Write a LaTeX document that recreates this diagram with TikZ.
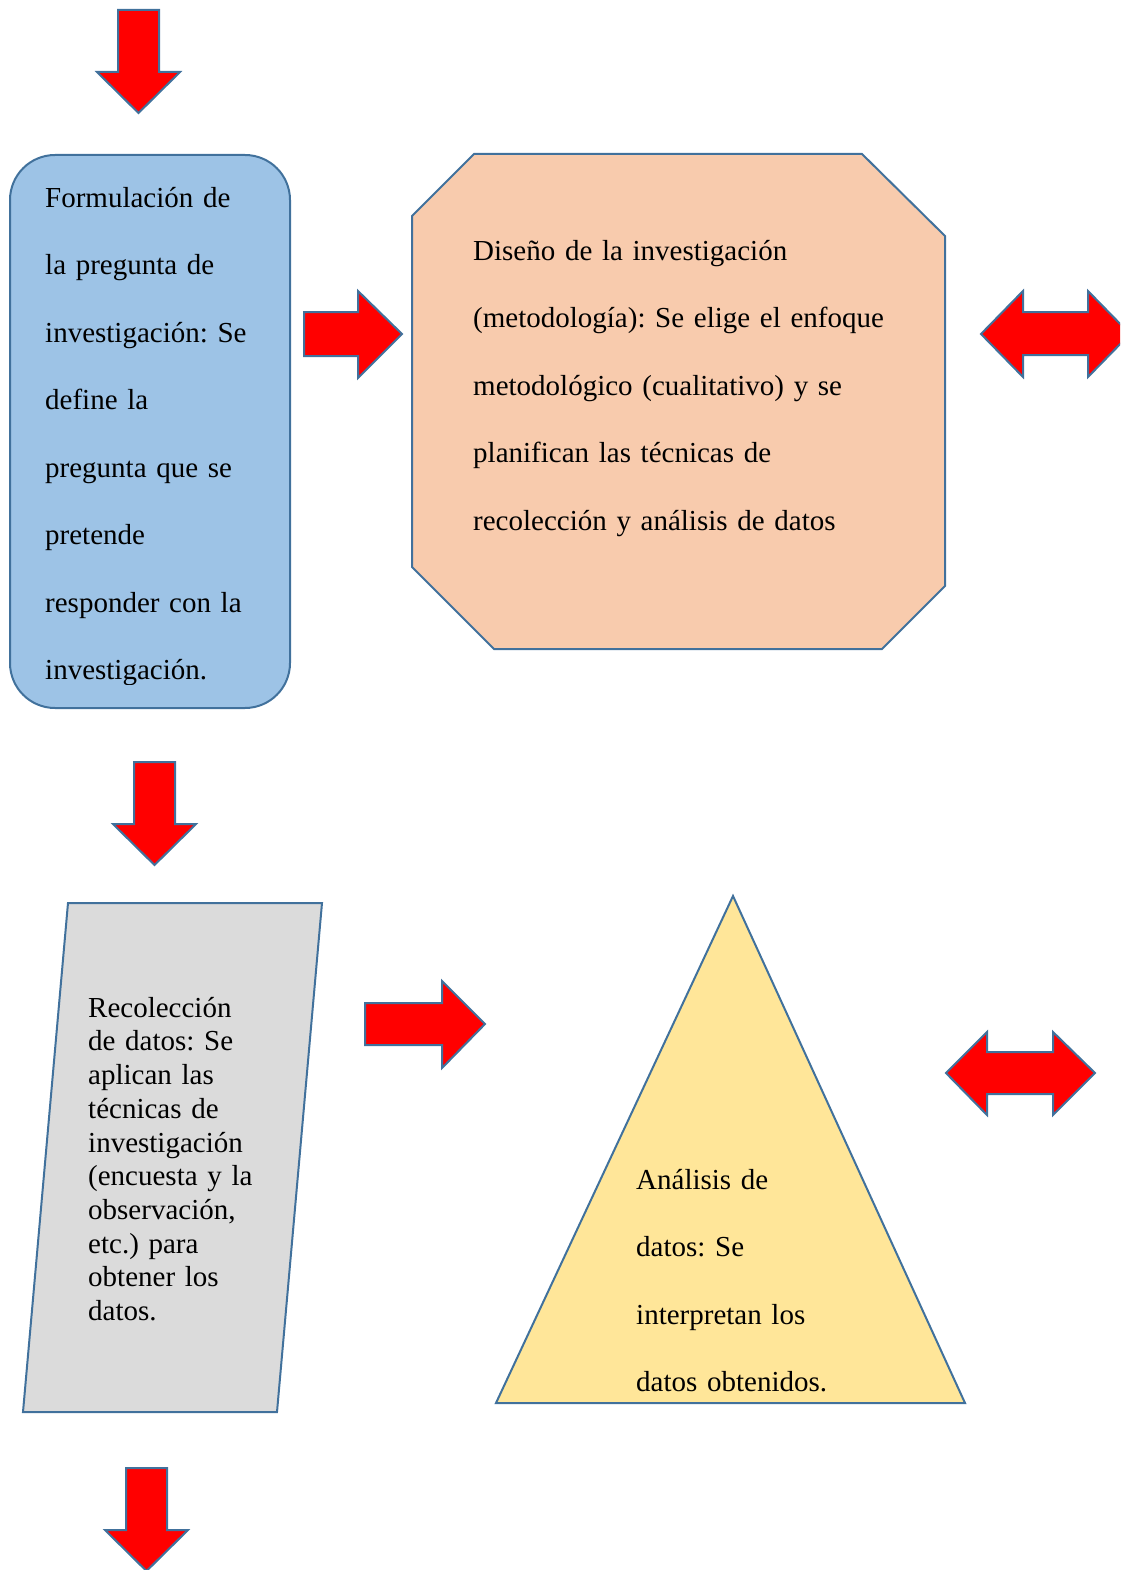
\documentclass[tikz,border=0pt]{standalone}
\usepackage{fontspec}
\setmainfont{Liberation Serif}
\usepackage{tikz}
\usetikzlibrary{positioning}
\frenchspacing

\definecolor{outline}{HTML}{41719C}
\definecolor{arrowred}{HTML}{FF0000}
\definecolor{blueback}{HTML}{9DC3E6}
\definecolor{peachback}{HTML}{F8CBAD}
\definecolor{greyback}{HTML}{DBDBDB}
\definecolor{yellowback}{HTML}{FFE699}

\tikzset{
  shapeline/.style={draw=outline, line width=2pt, line join=miter},
  blockarrow/.style={shapeline, fill=arrowred},
  widetext/.style={anchor=north west, inner sep=0pt, align=left,
    text width=#1, font=\fontsize{29}{67.5}\selectfont},
  tighttext/.style={anchor=north west, inner sep=0pt, align=left,
    text width=#1, font=\fontsize{29}{33.7}\selectfont},
}
\newcommand{\topstrut}{\rule{0pt}{27pt}}
% centre x, top y
\newcommand{\downblock}[2]{%
  \draw[blockarrow] (#1-20.5,#2) -- ++(41,0) -- ++(0,62) -- ++(21,0)
    -- ++(-41.5,41) -- ++(-41.5,-41) -- ++(21,0) -- cycle;}

\begin{document}
\begin{tikzpicture}[x=1pt, y=-1pt]
      \clip (0,0) rectangle (1120,1570);

      % shapes
      \draw[shapeline, fill=blueback, rounded corners=45pt] (10,155) rectangle (290,708);
      \draw[shapeline, fill=peachback] (474,154) -- (862,154) -- (945,236) -- (945,586)
        -- (882,649) -- (494,649) -- (412,567) -- (412,216) -- cycle;
      \draw[shapeline, fill=greyback] (68,903) -- (322,903) -- (277,1412) -- (23,1412) -- cycle;
      \draw[shapeline, fill=yellowback] (733,896) -- (965,1403) -- (496,1403) -- cycle;

      % texts
      \begin{scope}
        \clip (10,155) rectangle (290,684);
        \node[widetext=240pt] (preg) at (45,180) {\topstrut Formulación de\\ la pregunta de\\
          investigación: Se\\ define la\\ pregunta que se\\ pretende\\
          responder con la\\ investigación.};
      \end{scope}
      \node[widetext=460pt] (dis) at (473,233) {\topstrut Diseño de la investigación\\
        (metodología): Se elige el enfoque\\ metodológico (cualitativo) y se\\
        planifican las técnicas de\\ recolección y análisis de datos};
      \node[tighttext=200pt] (rec) at (88,990) {\topstrut Recolección\\ de datos: Se\\
        aplican las\\ técnicas de\\ investigación\\ (encuesta y la\\ observación,\\
        etc.) para\\ obtener los\\ datos.};
      \node[widetext=260pt] (ana) at (636,1162) {\topstrut Análisis de\\ datos: Se\\
        interpretan los\\ datos obtenidos.};

      % block arrows
      \downblock{138.5}{10}
      \downblock{154.5}{762}
      \downblock{146.5}{1468}
      \draw[blockarrow] (304,312) -- (358,312) -- (358,291) -- (402,334)
        -- (358,378) -- (358,356) -- (304,356) -- cycle;
      \draw[blockarrow] (365,1003) -- (442,1003) -- (442,981) -- (485,1024)
        -- (442,1068) -- (442,1045) -- (365,1045) -- cycle;
      \draw[blockarrow] (981,334) -- (1023,291) -- (1023,312) -- (1088,312) -- (1088,291)
        -- (1130,334) -- (1088,377) -- (1088,355) -- (1023,355) -- (1023,377) -- cycle;
      \draw[blockarrow] (946,1073) -- (987,1032) -- (987,1052) -- (1053,1052) -- (1053,1032)
        -- (1095,1073) -- (1053,1115) -- (1053,1094) -- (987,1094) -- (987,1115) -- cycle;
    \end{tikzpicture}
\end{document}
